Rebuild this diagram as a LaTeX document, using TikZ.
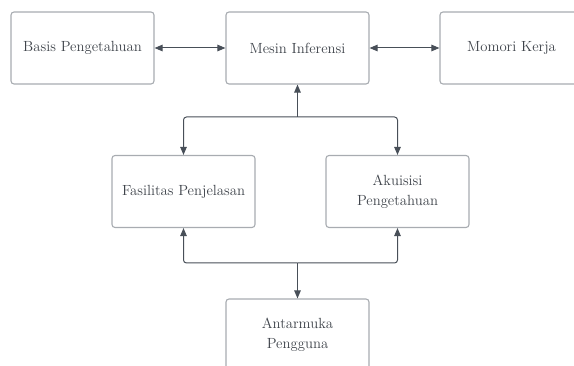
\documentclass[tikz,border=0pt]{standalone}
\usetikzlibrary{arrows.meta}

\begin{document}
\begin{tikzpicture}[x=1pt,y=1pt,yscale=-1,xscale=1,
    kotak/.style={draw=colorBox, line width=1.1pt, rounded corners=3pt, fill=white,
        minimum width=143pt, minimum height=72pt, align=center, text=colorText,
        font=\fontsize{14.7}{20}\selectfont},
    panah/.style={draw=colorLine, line width=1pt, rounded corners=3pt,
        -{Triangle[length=8pt,width=6.5pt]}},
    panahdua/.style={draw=colorLine, line width=1pt,
        {Triangle[length=8pt,width=6.5pt]}-{Triangle[length=8pt,width=6.5pt]}}]

% --- CONFIGURATION ---
\definecolor{colorBox}{RGB}{168, 172, 177}  % box border
\definecolor{colorLine}{RGB}{72, 79, 88}    % connectors
\definecolor{colorText}{RGB}{62, 67, 74}    % labels

\useasboundingbox (0,0) rectangle (574,366);
\clip (0,0) rectangle (574,366);

% --- TOP ROW ---
\node[kotak] (basis) at (82.5, 48) {Basis Pengetahuan};
\node[kotak] (mesin) at (297.5, 48) {Mesin Inferensi};
\node[kotak] (memori) at (511.5, 48) {Momori Kerja};

% --- MIDDLE ROW ---
\node[kotak] (fasilitas) at (183.5, 191.5) {Fasilitas Penjelasan};
\node[kotak] (akuisisi) at (397.5, 191.5) {Akuisisi\\Pengetahuan};

% --- BOTTOM ---
\node[kotak] (antarmuka) at (297.5, 335) {Antarmuka\\Pengguna};

% --- ARROWS ---
\draw[panahdua] (basis) -- (mesin);
\draw[panahdua] (mesin) -- (memori);

\coordinate (atas) at (297.5, 117);
\draw[panah] (atas) -- (mesin.south);
\draw[panah] (atas) -| (fasilitas.north);
\draw[panah] (atas) -| (akuisisi.north);

\coordinate (bawah) at (297.5, 263);
\draw[panah] (bawah) -- (antarmuka.north);
\draw[panah] (bawah) -| (fasilitas.south);
\draw[panah] (bawah) -| (akuisisi.south);

\end{tikzpicture}
\end{document}
